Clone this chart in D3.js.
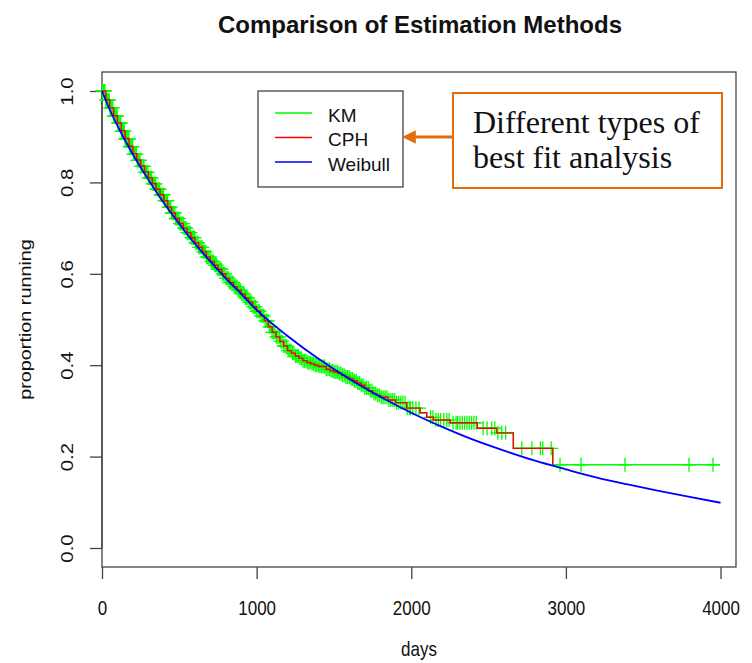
<!DOCTYPE html>
<html>
<head>
<meta charset="utf-8">
<script src="https://cdn.jsdelivr.net/npm/d3@7"></script>
<style>
  body { margin: 0; background: #fff; }
  text { font-family: "Liberation Sans", Arial, sans-serif; fill: #111; }
</style>
</head>
<body>
<div id="chart"></div>
<script>

// Kaplan-Meier step curve (days, proportion running)
let kmTime = [0, 25, 50, 75, 100, 125, 150, 175, 200, 225, 250, 275, 300, 325, 350, 375, 400, 425, 450, 475,
              500, 525, 550, 575, 600, 625, 650, 675, 700, 725, 750, 775, 800, 825, 850, 875, 900, 925, 950, 975,
              1000, 1025, 1050, 1075, 1100, 1125, 1150, 1175, 1200, 1225, 1250, 1275, 1300, 1325, 1350, 1375,
              1400, 1450, 1475, 1500, 1525, 1550, 1575, 1600, 1625, 1650, 1675, 1700, 1725, 1750, 1775, 1800,
              1850, 1900, 1970, 2057, 2100, 2143, 2251, 2427, 2552, 2660, 2915, 3997];
let kmSurv = [1.0, 0.98, 0.963, 0.945, 0.93, 0.912, 0.895, 0.878, 0.862, 0.848, 0.835, 0.822, 0.81, 0.797, 0.785, 0.773, 0.76, 0.746, 0.733, 0.721,
              0.71, 0.70, 0.69, 0.679, 0.668, 0.658, 0.648, 0.637, 0.627, 0.619, 0.61, 0.60, 0.59, 0.581, 0.572, 0.564, 0.556, 0.547, 0.538, 0.528,
              0.518, 0.508, 0.497, 0.484, 0.472, 0.462, 0.452, 0.442, 0.432, 0.426, 0.42, 0.415, 0.41, 0.406, 0.403, 0.40,
              0.397, 0.391, 0.388, 0.385, 0.382, 0.378, 0.374, 0.37, 0.366, 0.361, 0.356, 0.35, 0.344, 0.338, 0.334, 0.33,
              0.324, 0.318, 0.306, 0.296, 0.286, 0.28, 0.274, 0.262, 0.252, 0.218, 0.182, 0.182];

// Cox proportional hazards step curve
let cphTime = [0, 25, 50, 75, 100, 125, 150, 175, 200, 225, 250, 275, 300, 325, 350, 375, 400, 425, 450, 475,
               500, 525, 550, 575, 600, 625, 650, 675, 700, 725, 750, 775, 800, 825, 850, 875, 900, 925, 950, 975,
               1000, 1025, 1050, 1075, 1100, 1125, 1150, 1175, 1200, 1225, 1250, 1275, 1300, 1325, 1350, 1375,
               1400, 1450, 1475, 1500, 1525, 1550, 1575, 1600, 1625, 1650, 1675, 1700, 1725, 1750, 1775, 1800,
               1850, 1900, 1970, 2057, 2100, 2143, 2251, 2427, 2552, 2660, 2915];
let cphSurv = [1.0, 0.981, 0.963, 0.946, 0.93, 0.913, 0.896, 0.879, 0.863, 0.849, 0.836, 0.823, 0.81, 0.797, 0.785, 0.773, 0.76, 0.746, 0.733, 0.721,
               0.71, 0.70, 0.69, 0.679, 0.668, 0.658, 0.648, 0.637, 0.627, 0.619, 0.61, 0.60, 0.59, 0.581, 0.572, 0.564, 0.556, 0.547, 0.538, 0.528,
               0.518, 0.508, 0.497, 0.484, 0.472, 0.462, 0.452, 0.442, 0.432, 0.426, 0.42, 0.415, 0.41, 0.406, 0.403, 0.40,
               0.397, 0.391, 0.388, 0.385, 0.382, 0.378, 0.374, 0.37, 0.366, 0.361, 0.356, 0.35, 0.344, 0.338, 0.334, 0.33,
               0.324, 0.318, 0.306, 0.296, 0.286, 0.28, 0.274, 0.262, 0.252, 0.218, 0.182];

// Weibull fit
let wbTime = [0, 50, 100, 200, 300, 400, 500, 600, 700, 800, 900, 1000, 1200, 1400, 1600, 1800, 2000,
              2200, 2400, 2600, 2800, 3000, 3200, 3400, 3600, 3800, 4000];
let wbSurv = [1.0, 0.959, 0.924, 0.861, 0.806, 0.755, 0.709, 0.666, 0.627, 0.59, 0.556, 0.521, 0.464, 0.414, 0.370, 0.331, 0.296,
              0.265, 0.237, 0.213, 0.191, 0.172, 0.154, 0.139, 0.125, 0.112, 0.099];

// censored observations (days), drawn as "+" on the KM curve
let censorTime = [3, 8, 14, 19, 25, 31, 36, 42, 47, 53, 59, 64, 70, 76, 81, 87, 93, 98, 104, 110, 116, 121, 127, 133,
                  139, 145, 150, 156, 162, 168, 174, 180, 186, 192, 198, 204, 210, 216, 222, 228, 234, 240, 246, 252,
                  258, 265, 271, 277, 283, 289, 296, 302, 308, 315, 321, 327, 334, 340, 346, 353, 359, 366, 372, 378,
                  385, 391, 398, 404, 411, 417, 424, 430, 437, 444, 450, 457, 463, 470, 477, 483, 490, 497, 503, 510,
                  517, 524, 530, 537, 544, 551, 558, 565, 571, 578, 585, 592, 599, 606, 613, 620, 627, 634, 641, 648,
                  655, 663, 670, 677, 684, 691, 699, 706, 713, 720, 728, 735, 742, 750, 757, 765, 772, 780, 787, 795,
                  802, 810, 818, 825, 833, 841, 848, 856, 864, 872, 880, 888, 896, 904, 912, 920, 928, 936, 944, 952,
                  960, 968, 977, 985, 993,
                  1001, 1010, 1019, 1028, 1037, 1046, 1055, 1064, 1073, 1082, 1091, 1100, 1110, 1119, 1128, 1137, 1147,
                  1156, 1165, 1175, 1184, 1194, 1203, 1213, 1222, 1232, 1241, 1251, 1261, 1270, 1280, 1290, 1300, 1309,
                  1319, 1329, 1339, 1349, 1359, 1369, 1379, 1389, 1399, 1409, 1420, 1430, 1440, 1450, 1461, 1471, 1481,
                  1492, 1502, 1513, 1523, 1534, 1545, 1555, 1566, 1577, 1588, 1599, 1610, 1621, 1632, 1643, 1654, 1666,
                  1677, 1688, 1700, 1711, 1723, 1734, 1746, 1758, 1770, 1782, 1794, 1806, 1818, 1830, 1843, 1855, 1868,
                  1880, 1893, 1906, 1919, 1932, 1946, 1960, 1974, 1988,
                  1995, 2010, 2030, 2050, 2125, 2140, 2160, 2175, 2190, 2210, 2230, 2245, 2270, 2290, 2300, 2315,
                  2330, 2345, 2360, 2375, 2390, 2405, 2420, 2465, 2490, 2520, 2540, 2560, 2585, 2610, 2715, 2780, 2835,
                  2850, 2905, 2962, 3098, 3382, 3796, 3951];

let xTicks = [0, 1000, 2000, 3000, 4000];
let yTicks = [0, 0.2, 0.4, 0.6, 0.8, 1.0];

let legendNames = ["KM", "CPH", "Weibull"];
let legendColors = ["#00ff00", "#ff0000", "#0000ff"];

let noteLines = ["Different types of", "best fit analysis"];


let width = 752, height = 663;
let margin = {top: 72, right: 16, bottom: 96, left: 102};
let stretch = 1.2;   // the picture is a bit taller than wide, text looks stretched

let svg = d3.select("#chart")
            .append("svg")
            .attr("width", width)
            .attr("height", height);

let x = d3.scaleLinear()
    .domain([0, 4100])
    .range([margin.left, width - margin.right]);

let y = d3.scaleLinear()
    .domain([-0.0416, 1.0416])
    .range([height - margin.bottom, margin.top]);

// title
svg.append("text")
    .attr("x", 420)
    .attr("y", 33)
    .attr("text-anchor", "middle")
    .style("font-size", "24px")
    .style("font-weight", "bold")
    .text("Comparison of Estimation Methods");

// axes, R style
let xAxis = svg.append("g")
    .attr("transform", "translate(0," + y.range()[0] + ")")
    .call(d3.axisBottom(x).tickValues(xTicks).tickFormat(d3.format("d")).tickSize(12).tickSizeOuter(0));

let yAxis = svg.append("g")
    .attr("transform", "translate(" + x.range()[0] + ",0)")
    .call(d3.axisLeft(y).tickValues(yTicks).tickFormat(d3.format(".1f")).tickSize(12).tickSizeOuter(0));

[xAxis, yAxis].forEach(g => {
    g.select(".domain").remove();
    g.selectAll(".tick line").attr("stroke", "#444").attr("stroke-width", 1.3);
    g.selectAll(".tick text").style("font-size", "17px").attr("fill", "#222");
});

xAxis.selectAll(".tick text")
    .attr("y", null).attr("dy", null)
    .attr("transform", "translate(0,48) scale(1," + stretch + ")");

// R draws the y axis line between the extreme ticks
yAxis.append("line")
    .attr("y1", y(0)).attr("y2", y(1))
    .attr("stroke", "#444").attr("stroke-width", 1.3);

yAxis.selectAll(".tick text")
    .attr("x", null).attr("dy", "0.35em")
    .attr("text-anchor", "middle")
    .attr("transform", "translate(-35,0) rotate(-90) scale(" + stretch + ",1)");

// plot frame
svg.append("rect")
    .attr("x", x.range()[0])
    .attr("y", y.range()[1])
    .attr("width", x.range()[1] - x.range()[0])
    .attr("height", y.range()[0] - y.range()[1])
    .attr("fill", "none")
    .attr("stroke", "#444")
    .attr("stroke-width", 1.3);

// axis titles
svg.append("text")
    .attr("transform", "translate(" + ((x.range()[0] + x.range()[1]) / 2) + ",656) scale(1," + stretch + ")")
    .attr("text-anchor", "middle")
    .style("font-size", "17px")
    .text("days");

svg.append("text")
    .attr("transform", "translate(31," + ((y.range()[0] + y.range()[1]) / 2) + ") rotate(-90) scale(" + stretch + ",1)")
    .attr("text-anchor", "middle")
    .style("font-size", "16.5px")
    .text("proportion running");

let plot = svg.append("g");

let stepLine = d3.line()
    .x(d => x(d[0]))
    .y(d => y(d[1]))
    .curve(d3.curveStepAfter);

// KM curve
plot.append("path")
    .datum(d3.zip(kmTime, kmSurv))
    .attr("d", stepLine)
    .attr("fill", "none")
    .attr("stroke", "#00ff00")
    .attr("stroke-width", 1.5);

// censor marks
let bisect = d3.bisector(d => d).right;
let kmAt = t => kmSurv[Math.max(0, bisect(kmTime, t) - 1)];

plot.selectAll(".censor")
    .data(censorTime)
    .enter()
    .append("path")
    .attr("class", "censor")
    .attr("d", t => {
        let cx = x(t), cy = y(kmAt(t)), s = 7;
        return "M" + (cx - s) + "," + cy + "H" + (cx + s) + "M" + cx + "," + (cy - s) + "V" + (cy + s);
    })
    .attr("stroke", "#00ff00")
    .attr("stroke-width", 1.3)
    .attr("fill", "none");

// CPH curve
plot.append("path")
    .datum(d3.zip(cphTime, cphSurv))
    .attr("d", stepLine)
    .attr("fill", "none")
    .attr("stroke", "#ff0000")
    .attr("stroke-width", 1.4);

// Weibull curve
plot.append("path")
    .datum(d3.zip(wbTime, wbSurv))
    .attr("d", d3.line().x(d => x(d[0])).y(d => y(d[1])).curve(d3.curveMonotoneX))
    .attr("fill", "none")
    .attr("stroke", "#0000ff")
    .attr("stroke-width", 1.8);

// legend
let legend = svg.append("g").attr("transform", "translate(258,91)");

legend.append("rect")
    .attr("width", 145)
    .attr("height", 96)
    .attr("fill", "#fff")
    .attr("stroke", "#444")
    .attr("stroke-width", 1.3);

legendNames.forEach((name, i) => {
    let ly = 22 + i * 24.5;
    legend.append("line")
        .attr("x1", 17).attr("x2", 54)
        .attr("y1", ly).attr("y2", ly)
        .attr("stroke", legendColors[i])
        .attr("stroke-width", 1.5);
    legend.append("text")
        .attr("x", 70)
        .attr("y", ly + 2)
        .attr("dy", "0.35em")
        .style("font-size", "19px")
        .attr("fill", "#222")
        .text(name);
});

// annotation box with arrow
let orange = "#e46c0a";

let defs = svg.append("defs");
defs.append("marker")
    .attr("id", "arrowhead")
    .attr("viewBox", "0 -5 10 10")
    .attr("refX", 8)
    .attr("refY", 0)
    .attr("markerWidth", 4.5)
    .attr("markerHeight", 4.5)
    .attr("orient", "auto")
    .append("path")
    .attr("d", "M0,-5L10,0L0,5Z")
    .attr("fill", orange);

svg.append("line")
    .attr("x1", 453).attr("y1", 137)
    .attr("x2", 405).attr("y2", 137)
    .attr("stroke", orange)
    .attr("stroke-width", 3)
    .attr("marker-end", "url(#arrowhead)");

svg.append("rect")
    .attr("x", 453)
    .attr("y", 93)
    .attr("width", 269)
    .attr("height", 95)
    .attr("fill", "#fff")
    .attr("stroke", orange)
    .attr("stroke-width", 2);

noteLines.forEach((line, i) => {
    svg.append("text")
        .attr("x", 473)
        .attr("y", 133 + i * 35)
        .style("font-family", "'Liberation Serif', 'Times New Roman', serif")
        .style("font-size", "32px")
        .attr("fill", orange)
        .text(line);
});

</script>
</body>
</html>
